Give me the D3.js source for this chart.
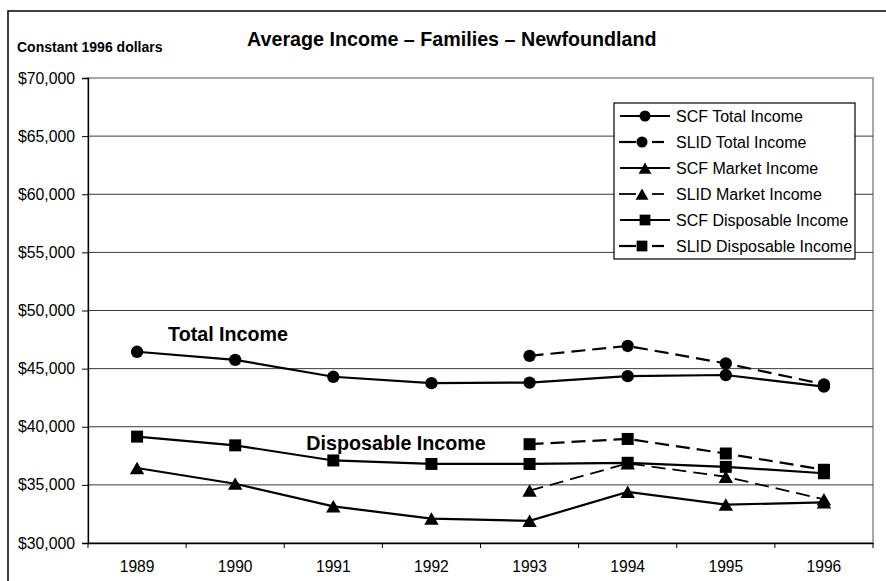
<!DOCTYPE html>
<html>
<head>
<meta charset="utf-8">
<script src="https://cdn.jsdelivr.net/npm/d3@7"></script>
<style>
  body { margin: 0; background: #fff; }
  svg { font-family: "Liberation Sans", Arial, sans-serif; }
</style>
</head>
<body>
<svg id="chart" width="886" height="581"></svg>
<script>
// data (constant 1996 dollars)
var years = ["1989", "1990", "1991", "1992", "1993", "1994", "1995", "1996"];
var yTicks = [30000, 35000, 40000, 45000, 50000, 55000, 60000, 65000, 70000];

var scfTotal  = [46450, 45750, 44300, 43750, 43800, 44350, 44450, 43450];
var slidTotal = [null, null, null, null, 46100, 46950, 45450, 43650];
var scfMarket  = [36450, 35100, 33150, 32100, 31900, 34400, 33300, 33500];
var slidMarket = [null, null, null, null, 34500, 36850, 35700, 33750];
var scfDisp  = [39150, 38400, 37100, 36800, 36800, 36900, 36550, 36000];
var slidDisp = [null, null, null, null, 38500, 38950, 37700, 36300];

var seriesNames = ["SCF Total Income", "SLID Total Income", "SCF Market Income",
                   "SLID Market Income", "SCF Disposable Income", "SLID Disposable Income"];

var series = [
    {name: seriesNames[0], values: scfTotal, marker: "circle", dashed: false, width: 2.2},
    {name: seriesNames[1], values: slidTotal, marker: "circle", dashed: true, width: 2.2},
    {name: seriesNames[2], values: scfMarket, marker: "triangle", dashed: false, width: 2.2},
    {name: seriesNames[3], values: slidMarket, marker: "triangle", dashed: true, width: 1.8},
    {name: seriesNames[4], values: scfDisp, marker: "square", dashed: false, width: 2.2},
    {name: seriesNames[5], values: slidDisp, marker: "square", dashed: true, width: 2.2}
];

var plot = {left: 88, right: 873, top: 78, bottom: 543};

var svg = d3.select("#chart");

// outer frame (runs past the right and bottom edge like the original)
svg.append("rect")
    .attr("x", 8).attr("y", 11)
    .attr("width", 910).attr("height", 620)
    .attr("fill", "none").attr("stroke", "#000").attr("stroke-width", 1.5);

var x = d3.scaleBand().domain(years).range([plot.left, plot.right]).padding(0);
var y = d3.scaleLinear().domain([30000, 70000]).range([plot.bottom, plot.top]);

// plot area border
svg.append("rect")
    .attr("x", plot.left).attr("y", plot.top)
    .attr("width", plot.right - plot.left).attr("height", plot.bottom - plot.top)
    .attr("fill", "none").attr("stroke", "#8c8c8c").attr("stroke-width", 1.5);

// gridlines
svg.append("g").selectAll("line")
    .data(yTicks.slice(1, -1))
    .enter().append("line")
    .attr("x1", plot.left).attr("x2", plot.right)
    .attr("y1", function (d) { return y(d); })
    .attr("y2", function (d) { return y(d); })
    .attr("stroke", "#3a3a3a").attr("stroke-width", 1);

// y axis
var yAxis = svg.append("g")
    .attr("transform", "translate(" + plot.left + ",0)")
    .call(d3.axisLeft(y).tickValues(yTicks)
        .tickFormat(function (d) { return "$" + d3.format(",")(d); })
        .tickSize(6).tickPadding(7));
yAxis.select(".domain").attr("stroke", "#000").attr("stroke-width", 1.3);
yAxis.selectAll("text").style("font-size", "15.8px").attr("fill", "#000");

// x axis: labels centred, ticks on category boundaries
var xAxis = svg.append("g")
    .attr("transform", "translate(0," + plot.bottom + ")")
    .call(d3.axisBottom(x).tickSize(0).tickPadding(18));
xAxis.select(".domain").attr("stroke", "#000").attr("stroke-width", 1.3);
xAxis.selectAll("text").style("font-size", "15.6px").attr("fill", "#000");

var bounds = years.map(function (d) { return x(d); }).concat([x(years[years.length - 1]) + x.bandwidth()]);
xAxis.selectAll(".bound")
    .data(bounds)
    .enter().append("line")
    .attr("class", "bound")
    .attr("x1", function (d) { return d; }).attr("x2", function (d) { return d; })
    .attr("y1", 0).attr("y2", 5)
    .attr("stroke", "#000").attr("stroke-width", 1);

// markers
var symbolType = {circle: d3.symbolCircle, square: d3.symbolSquare, triangle: d3.symbolTriangle};
var symbolSize = {circle: 120, square: 144, triangle: 90};
var symbolShift = {circle: 0, square: 0, triangle: 2};

function cx(i) { return x(years[i]) + x.bandwidth() / 2; }

var line = d3.line()
    .defined(function (d) { return d != null; })
    .x(function (d, i) { return cx(i); })
    .y(function (d) { return y(d); });

series.forEach(function (s) {
    var g = svg.append("g");
    g.append("path")
        .datum(s.values)
        .attr("d", line)
        .attr("fill", "none")
        .attr("stroke", "#000")
        .attr("stroke-width", s.width)
        .attr("stroke-dasharray", s.dashed ? "14,7" : null);
    g.selectAll("path.mk")
        .data(s.values.map(function (v, i) { return {v: v, i: i}; })
            .filter(function (d) { return d.v != null; }))
        .enter().append("path")
        .attr("class", "mk")
        .attr("d", d3.symbol().type(symbolType[s.marker]).size(symbolSize[s.marker]))
        .attr("transform", function (d) {
            return "translate(" + cx(d.i) + "," + (y(d.v) + symbolShift[s.marker]) + ")";
        })
        .attr("fill", "#000");
});

// legend
var legend = svg.append("g").attr("transform", "translate(614,103)");
legend.append("rect")
    .attr("width", 241).attr("height", 156)
    .attr("fill", "#fff").attr("stroke", "#000").attr("stroke-width", 1.2);

var rows = legend.selectAll(".row")
    .data(series)
    .enter().append("g")
    .attr("class", "row")
    .attr("transform", function (d, i) { return "translate(0," + (13 + i * 26) + ")"; });

// solid samples: one line; dashed samples: dash, marker, dash
rows.filter(function (d) { return !d.dashed; }).append("line")
    .attr("x1", 6).attr("x2", 56)
    .attr("y1", 0).attr("y2", 0)
    .attr("stroke", "#000")
    .attr("stroke-width", function (d) { return d.width; });

rows.filter(function (d) { return d.dashed; }).selectAll("line")
    .data(function (d) { return [[5, 22, d.width], [38, 50, d.width]]; })
    .enter().append("line")
    .attr("x1", function (p) { return p[0]; }).attr("x2", function (p) { return p[1]; })
    .attr("y1", 0).attr("y2", 0)
    .attr("stroke", "#000")
    .attr("stroke-width", function (p) { return p[2]; });

rows.append("path")
    .attr("d", function (d) {
        return d3.symbol().type(symbolType[d.marker]).size(symbolSize[d.marker] * 0.8)();
    })
    .attr("transform", function (d) {
        return "translate(" + (d.dashed ? 28 : 31) + "," + symbolShift[d.marker] + ")";
    })
    .attr("fill", "#000");

rows.append("text")
    .attr("x", 62).attr("y", 0).attr("dy", "0.35em")
    .style("font-size", "16px")
    .text(function (d) { return d.name; });

// titles
svg.append("text")
    .attr("x", 247).attr("y", 46)
    .style("font-size", "19.7px").style("font-weight", "bold")
    .text("Average Income \u2013 Families \u2013 Newfoundland");

svg.append("text")
    .attr("x", 17).attr("y", 52)
    .style("font-size", "14px").style("font-weight", "bold")
    .text("Constant 1996 dollars");

// series annotations
svg.append("text")
    .attr("x", cx(0) + 31).attr("y", 341)
    .style("font-size", "19.7px").style("font-weight", "bold")
    .text("Total Income");

svg.append("text")
    .attr("x", cx(2) - 27).attr("y", 450)
    .style("font-size", "19.7px").style("font-weight", "bold")
    .text("Disposable Income");
</script>
</body>
</html>
